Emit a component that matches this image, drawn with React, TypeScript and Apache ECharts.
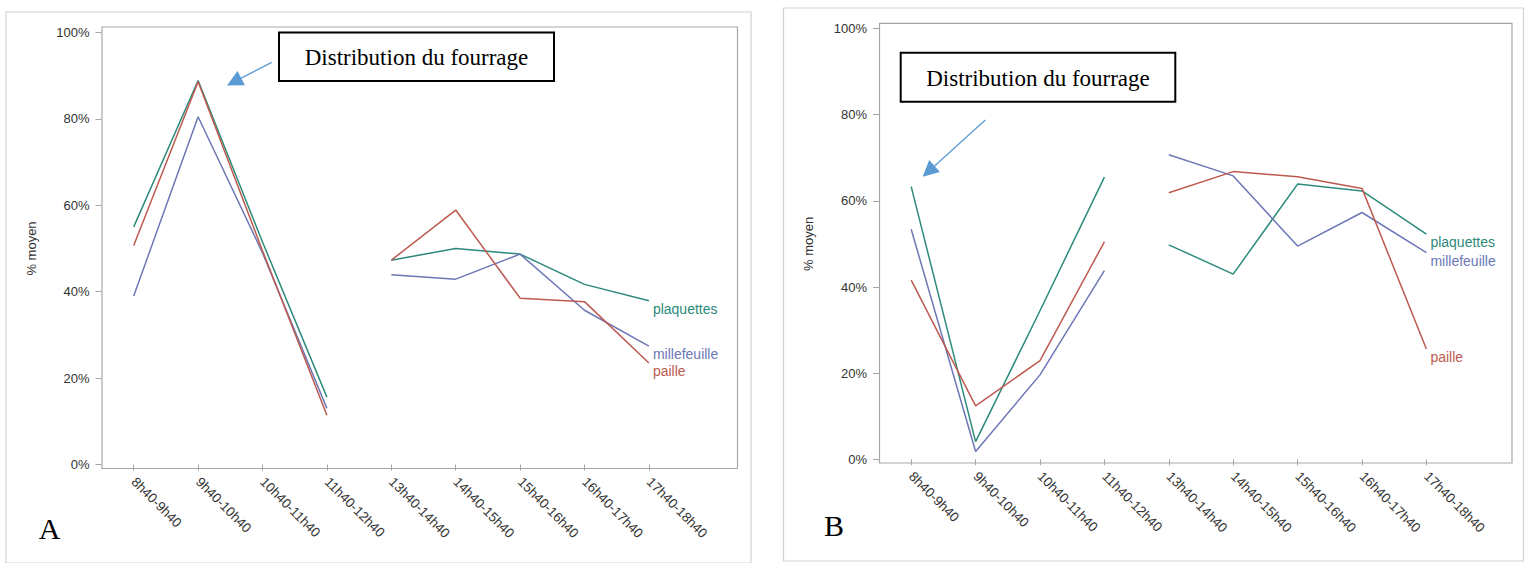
import React, { useEffect, useRef } from 'react';
import * as echarts from 'echarts';

const categories = [
  '8h40-9h40', '9h40-10h40', '10h40-11h40', '11h40-12h40',
  '13h40-14h40', '14h40-15h40', '15h40-16h40', '16h40-17h40', '17h40-18h40',
];
const yTicks = [0, 20, 40, 60, 80, 100];
const seriesNames = ['plaquettes', 'millefeuille', 'paille'];

// Panel A (% moyen)
const plaquettesA = [55.0, 88.9, 51.5, 15.6, 47.3, 50.0, 48.7, 41.7, 37.9];
const millefeuilleA = [39.0, 80.5, 49.0, 13.0, 43.9, 42.9, 48.7, 35.7, 27.4];
const pailleA = [50.7, 88.6, 49.5, 11.4, 47.3, 58.9, 38.5, 37.7, 23.5];

// Panel B (% moyen)
const plaquettesB = [63.3, 4.1, 34.5, 65.5, 49.8, 43.0, 63.9, 62.3, 52.3];
const millefeuilleB = [53.4, 1.8, 19.6, 43.8, 70.7, 65.8, 49.5, 57.3, 48.0];
const pailleB = [41.6, 12.4, 22.9, 50.5, 61.9, 66.8, 65.6, 62.9, 25.6];

const annotationText = 'Distribution du fourrage';
const yName = '% moyen';
const panelLetters = ['A', 'B'];
const morningCount = 4; // 8h40 .. 11h40; break before 13h40

const COLORS: Record<string, string> = {
  plaquettes: '#2d8a7b',
  millefeuille: '#6d77b6',
  paille: '#bd5a4f',
};
const FRAME = '#a3a7ab';
const SANS = '"Liberation Sans", Arial, sans-serif';
const SERIF = '"Liberation Serif", "Times New Roman", serif';

const layouts = [
  {
    grid: { left: 101.5, top: 32.5, width: 579.6, height: 432 },
    frame: { x: 102, y: 27, width: 635.5, height: 441.5 },
    xOffset: 4,
    border: { x: 6, y: 12, width: 745, height: 551 },
    box: { x: 279, y: 32.5, width: 275, height: 48.5 },
    arrow: { from: [271.7, 62.3], to: [227, 85.5] },
    letter: { x: 49.5, y: 528, size: 30 },
  },
  {
    grid: { left: 879, top: 28.6, width: 579.6, height: 430.7 },
    frame: { x: 879.5, y: 23.3, width: 632.5, height: 439.7 },
    xOffset: 3.7,
    border: { x: 783.5, y: 8, width: 740, height: 553 },
    box: { x: 900.7, y: 52.7, width: 274.6, height: 49 },
    arrow: { from: [985.3, 120], to: [922.7, 176.7] },
    letter: { x: 834, y: 525, size: 30 },
  },
];

const panelData = [
  { plaquettes: plaquettesA, millefeuille: millefeuilleA, paille: pailleA },
  { plaquettes: plaquettesB, millefeuille: millefeuilleB, paille: pailleB },
];

function arrowGraphics(from: number[], to: number[]) {
  const dx = to[0] - from[0];
  const dy = to[1] - from[1];
  const len = Math.sqrt(dx * dx + dy * dy);
  const ux = dx / len;
  const uy = dy / len;
  const headLen = 16;
  const halfW = 8;
  const bx = to[0] - ux * headLen;
  const by = to[1] - uy * headLen;
  const px = -uy * halfW;
  const py = ux * halfW;
  return [
    {
      type: 'line',
      shape: { x1: from[0], y1: from[1], x2: bx, y2: by },
      style: { stroke: '#5b9bd5', lineWidth: 1.3 },
    },
    {
      type: 'polygon',
      shape: { points: [[to[0], to[1]], [bx + px, by + py], [bx - px, by - py]] },
      style: { fill: '#5b9bd5' },
    },
  ];
}

export default function App() {
  const ref = useRef<HTMLDivElement>(null);
  useEffect(() => {
    document.body.style.margin = '0';
    const chart = echarts.init(ref.current as HTMLDivElement, undefined, {
      renderer: 'svg',
      width: 1527,
      height: 563,
    });

    const grids: any[] = [];
    const xAxes: any[] = [];
    const yAxes: any[] = [];
    const series: any[] = [];
    const graphics: any[] = [];

    layouts.forEach((lay, p) => {
      grids.push({ ...lay.grid, containLabel: false });
      xAxes.push({
        type: 'category',
        gridIndex: p,
        data: categories,
        boundaryGap: true,
        offset: lay.xOffset,
        axisLine: { show: false },
        axisTick: { show: true, alignWithLabel: true, length: 6, interval: 0, lineStyle: { color: FRAME } },
        axisLabel: {
          interval: 0,
          rotate: -45,
          margin: 11,
          fontSize: 13.5,
          color: '#333',
          fontFamily: SANS,
        },
        splitLine: { show: false },
      });
      yAxes.push({
        type: 'value',
        gridIndex: p,
        min: yTicks[0],
        max: yTicks[yTicks.length - 1],
        interval: yTicks[1] - yTicks[0],
        name: yName,
        nameLocation: 'middle',
        nameRotate: 90,
        nameGap: 64,
        nameTextStyle: { fontSize: 13, color: '#333', fontFamily: SANS },
        axisLine: { show: false },
        axisTick: { show: true, length: 6, lineStyle: { color: FRAME } },
        axisLabel: {
          formatter: '{value}%',
          margin: 12,
          fontSize: 13,
          color: '#333',
          fontFamily: SANS,
        },
        splitLine: { show: false },
      });

      const data = panelData[p] as Record<string, number[]>;
      seriesNames.forEach((name) => {
        const vals = data[name];
        const morning = vals.map((v, i) => (i < morningCount ? v : '-'));
        const afternoon = vals.map((v, i) => (i >= morningCount ? v : '-'));
        [morning, afternoon].forEach((seg, k) => {
          series.push({
            type: 'line',
            name,
            xAxisIndex: p,
            yAxisIndex: p,
            data: seg,
            showSymbol: false,
            symbol: 'none',
            connectNulls: false,
            lineStyle: { color: COLORS[name], width: 1.5 },
            itemStyle: { color: COLORS[name] },
            endLabel: k === 1
              ? {
                  show: true,
                  formatter: name,
                  color: COLORS[name],
                  fontSize: 14,
                  fontFamily: SANS,
                  distance: 4,
                  offset: [0, 8],
                }
              : { show: false },
          });
        });
      });

      graphics.push({
        type: 'rect',
        shape: { ...lay.border },
        style: { fill: 'none', stroke: '#d2d2d2', lineWidth: 1.2 },
        silent: true,
      });
      graphics.push({
        type: 'rect',
        shape: { ...lay.frame },
        style: { fill: 'none', stroke: FRAME, lineWidth: 1.2 },
        silent: true,
      });
      graphics.push({
        type: 'rect',
        shape: { ...lay.box },
        style: { fill: '#fff', stroke: '#000', lineWidth: 2 },
        z: 10,
      });
      graphics.push({
        type: 'text',
        x: lay.box.x + lay.box.width / 2,
        y: lay.box.y + lay.box.height / 2 + 1,
        z: 11,
        style: {
          text: annotationText,
          fontSize: 23,
          fontFamily: SERIF,
          fill: '#000',
          align: 'center',
          verticalAlign: 'middle',
        },
      });
      arrowGraphics(lay.arrow.from, lay.arrow.to).forEach((g) => graphics.push({ ...g, z: 10 }));
      graphics.push({
        type: 'text',
        x: lay.letter.x,
        y: lay.letter.y,
        style: {
          text: panelLetters[p],
          fontSize: lay.letter.size,
          fontFamily: SERIF,
          fill: '#000',
          align: 'center',
          verticalAlign: 'middle',
        },
      });
    });

    chart.setOption({
      animation: false,
      backgroundColor: '#fff',
      grid: grids,
      xAxis: xAxes,
      yAxis: yAxes,
      series,
      graphic: graphics,
      tooltip: { show: false },
    });
    return () => chart.dispose();
  }, []);
  return <div ref={ref} style={{ width: 1527, height: 563 }} />;
}
